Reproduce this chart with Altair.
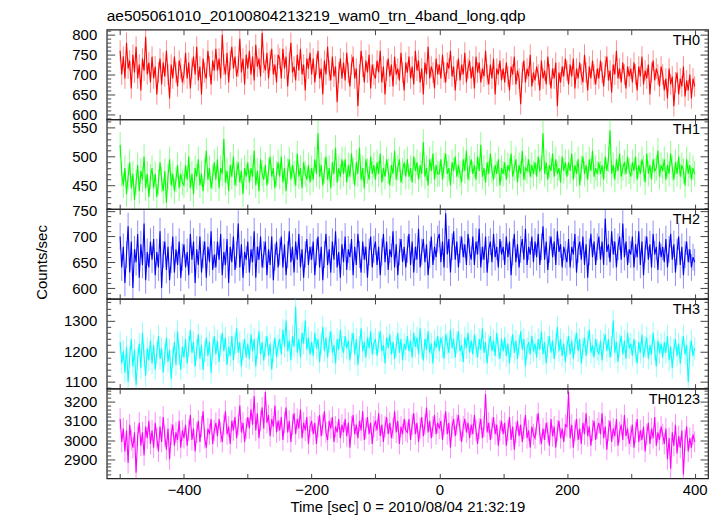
import altair as alt
import pandas as pd

TITLE = "ae505061010_20100804213219_wam0_trn_4band_long.qdp"
X_TITLE = "Time [sec] 0 = 2010/08/04 21:32:19"
Y_TITLE = "Counts/sec"

# time bins (sec): -500 ... 400 every 2.5 s
T_START, T_STEP, N_BINS = -500.0, 2.5, 361
TIMES = [T_START + T_STEP * i for i in range(N_BINS)]

X_DOMAIN = [-521, 421]
X_TICKS = [-500, -400, -300, -200, -100, 0, 100, 200, 300, 400]
X_LABELS = [-400, -200, 0, 200, 400]

TH0 = [760, 700, 745, 690, 780, 715, 735, 665, 750, 705, 770, 690, 725, 660, 740, 710, 795, 700, 730, 680,
       745, 690, 720, 650, 705, 740, 675, 730, 695, 760, 700, 640, 725, 690, 745, 705, 670, 735, 715, 680,
       700, 755, 690, 730, 665, 715, 745, 700, 770, 685, 720, 650, 740, 705, 690, 760, 720, 675, 735, 710,
       765, 710, 740, 690, 800, 725, 700, 755, 680, 735, 770, 715, 745, 695, 720, 790, 705, 740, 675, 750,
       715, 760, 700, 745, 685, 775, 720, 740, 695, 805, 730, 710, 755, 690, 735, 765, 700, 725, 680, 750,
       740, 690, 765, 715, 745, 670, 730, 780, 705, 720, 685, 750, 710, 765, 700, 725, 660, 740, 715, 755,
       700, 740, 680, 725, 760, 690, 715, 650, 735, 700, 770, 710, 685, 745, 695, 720, 630, 705, 740, 690,
       730, 685, 755, 705, 670, 725, 745, 690, 715, 620, 700, 760, 720, 680, 735, 705, 750, 665, 725, 700,
       690, 735, 705, 760, 680, 720, 650, 710, 740, 695, 725, 670, 745, 700, 715, 685, 755, 705, 660, 730,
       705, 745, 690, 720, 675, 760, 710, 735, 680, 715, 650, 730, 700, 770, 690, 720, 705, 665, 740, 700,
       725, 690, 750, 705, 680, 730, 715, 760, 695, 720, 660, 710, 740, 685, 725, 700, 755, 680, 715, 735,
       690, 720, 665, 745, 705, 730, 680, 715, 695, 760, 700, 675, 725, 690, 740, 650, 715, 700, 735, 685,
       715, 680, 730, 695, 660, 720, 700, 745, 675, 710, 690, 625, 705, 735, 680, 715, 695, 750, 670, 705,
       685, 720, 700, 660, 735, 690, 710, 675, 745, 700, 665, 715, 690, 730, 620, 705, 680, 720, 695, 740,
       710, 675, 725, 695, 740, 665, 715, 690, 730, 700, 680, 750, 705, 660, 720, 690, 735, 700, 675, 715,
       690, 735, 705, 670, 720, 745, 685, 710, 655, 725, 700, 760, 690, 715, 680, 730, 700, 665, 720, 695,
       715, 680, 730, 700, 660, 720, 695, 745, 675, 710, 690, 725, 650, 705, 735, 685, 715, 700, 670, 720,
       700, 660, 690, 640, 715, 675, 695, 620, 680, 705, 650, 690, 670, 720, 645, 685, 660, 700, 640, 690,
       670]

TH1 = [520, 470, 450, 480, 435, 465, 490, 445, 470, 425, 455, 485, 440, 475, 460, 500, 445, 470, 430, 465,
       480, 445, 470, 430, 455, 490, 460, 440, 475, 420, 465, 495, 450, 470, 440, 460, 485, 445, 470, 455,
       450, 485, 460, 500, 445, 470, 435, 480, 465, 495, 450, 470, 440, 475, 510, 460, 480, 445, 465, 490,
       460, 495, 445, 480, 470, 530, 455, 475, 440, 485, 465, 500, 450, 470, 490, 455, 475, 435, 480, 465,
       490, 455, 480, 465, 510, 450, 475, 440, 495, 470, 460, 485, 450, 475, 500, 465, 480, 445, 470, 490,
       465, 500, 455, 480, 440, 475, 495, 460, 485, 470, 450, 505, 465, 480, 445, 490, 470, 460, 485, 455,
       480, 460, 495, 470, 540, 465, 485, 450, 475, 500, 460, 480, 445, 490, 470, 515, 455, 480, 465, 495,
       470, 495, 455, 485, 465, 505, 475, 450, 490, 470, 515, 460, 480, 445, 495, 475, 460, 500, 470, 485,
       460, 490, 470, 505, 455, 480, 465, 495, 475, 450, 485, 470, 510, 460, 480, 495, 455, 475, 490, 465,
       495, 465, 480, 455, 500, 475, 490, 460, 485, 470, 525, 465, 480, 450, 495, 475, 505, 460, 485, 470,
       470, 495, 460, 485, 505, 470, 480, 450, 490, 475, 500, 465, 485, 470, 455, 495, 475, 510, 460, 480,
       495, 470, 485, 460, 500, 475, 520, 465, 480, 455, 490, 470, 505, 475, 460, 485, 470, 495, 450, 480,
       470, 490, 460, 485, 475, 505, 465, 480, 495, 455, 485, 470, 510, 460, 480, 475, 495, 465, 485, 470,
       490, 465, 500, 475, 480, 540, 470, 490, 460, 485, 475, 505, 465, 495, 470, 480, 455, 500, 475, 490,
       465, 490, 475, 505, 460, 485, 470, 495, 450, 480, 500, 470, 485, 460, 495, 475, 510, 465, 480, 470,
       490, 470, 485, 460, 500, 475, 495, 545, 470, 485, 460, 495, 475, 505, 465, 480, 490, 470, 500, 475,
       465, 490, 475, 500, 460, 485, 470, 495, 480, 455, 505, 470, 485, 460, 495, 475, 480, 510, 465, 485,
       475, 495, 460, 485, 470, 505, 480, 460, 490, 470, 500, 465, 485, 475, 450, 495, 470, 485, 460, 480,
       470]

TH2 = [700, 640, 680, 610, 665, 720, 630, 690, 600, 675, 650, 705, 620, 685, 645, 725, 615, 670, 640, 690,
       655, 695, 625, 670, 640, 710, 600, 665, 690, 635, 680, 615, 655, 700, 630, 675, 645, 690, 620, 660,
       685, 640, 670, 625, 705, 655, 690, 610, 675, 645, 700, 630, 665, 690, 620, 680, 650, 710, 635, 665,
       640, 690, 655, 705, 625, 670, 645, 695, 610, 680, 650, 700, 635, 665, 725, 640, 685, 620, 670, 655,
       690, 630, 675, 650, 710, 620, 680, 655, 700, 640, 665, 690, 625, 675, 645, 700, 615, 660, 690, 640,
       670, 700, 640, 685, 625, 665, 710, 650, 680, 630, 690, 655, 705, 640, 675, 620, 665, 695, 645, 680,
       655, 690, 625, 670, 700, 640, 680, 615, 665, 705, 645, 675, 630, 690, 655, 710, 640, 670, 620, 685,
       650, 700, 635, 675, 660, 695, 625, 680, 645, 705, 665, 630, 690, 655, 680, 620, 670, 700, 640, 675,
       690, 645, 680, 625, 670, 705, 650, 690, 635, 675, 660, 710, 640, 685, 625, 670, 695, 650, 680, 640,
       675, 705, 645, 690, 630, 680, 655, 715, 640, 670, 695, 650, 685, 625, 665, 700, 645, 680, 660, 695,
       705, 650, 690, 640, 745, 665, 695, 630, 680, 710, 655, 690, 640, 675, 700, 660, 685, 645, 705, 670,
       655, 700, 645, 690, 665, 715, 640, 680, 655, 700, 630, 675, 690, 650, 705, 660, 680, 640, 695, 665,
       680, 645, 700, 660, 690, 625, 670, 705, 650, 685, 640, 675, 695, 655, 715, 645, 680, 665, 700, 650,
       690, 660, 705, 645, 680, 720, 655, 690, 635, 675, 700, 660, 690, 645, 710, 670, 685, 640, 680, 665,
       650, 695, 640, 680, 665, 705, 630, 675, 690, 655, 700, 645, 685, 620, 670, 705, 660, 690, 645, 680,
       700, 655, 690, 645, 735, 670, 685, 650, 710, 665, 690, 640, 680, 700, 655, 725, 660, 690, 645, 675,
       665, 700, 640, 685, 660, 710, 645, 690, 625, 675, 700, 655, 685, 640, 705, 665, 680, 635, 690, 660,
       680, 650, 695, 640, 675, 705, 655, 685, 630, 670, 700, 645, 680, 625, 665, 690, 650, 675, 640, 660,
       650]

TH3 = [1230, 1160, 1200, 1130, 1215, 1100, 1180, 1240, 1150, 1205, 1090, 1175, 1225, 1145, 1260, 1185, 1120, 1210, 1170, 1235,
       1160, 1220, 1140, 1195, 1250, 1175, 1210, 1130, 1190, 1245, 1165, 1205, 1110, 1180, 1230, 1155, 1265, 1190, 1140, 1215,
       1180, 1240, 1160, 1215, 1270, 1195, 1230, 1150, 1205, 1255, 1175, 1220, 1140, 1200, 1245, 1185, 1230, 1130, 1210, 1250,
       1190, 1235, 1165, 1220, 1260, 1200, 1245, 1155, 1215, 1185, 1250, 1170, 1225, 1275, 1195, 1230, 1150, 1205, 1240, 1180,
       1225, 1175, 1255, 1200, 1240, 1150, 1210, 1265, 1190, 1230, 1170, 1215, 1250, 1185, 1225, 1140, 1200, 1245, 1180, 1220,
       1240, 1190, 1270, 1215, 1300, 1200, 1235, 1170, 1250, 1215, 1345, 1195, 1240, 1180, 1260, 1225, 1300, 1205, 1245, 1190,
       1230, 1185, 1260, 1210, 1240, 1165, 1225, 1280, 1200, 1245, 1180, 1230, 1265, 1195, 1220, 1160, 1240, 1205, 1270, 1215,
       1195, 1250, 1210, 1235, 1170, 1225, 1260, 1190, 1240, 1155, 1215, 1275, 1200, 1230, 1180, 1245, 1210, 1265, 1190, 1225,
       1240, 1185, 1230, 1265, 1200, 1220, 1160, 1245, 1210, 1255, 1190, 1230, 1175, 1215, 1260, 1195, 1240, 1170, 1225, 1205,
       1250, 1200, 1235, 1180, 1260, 1215, 1245, 1190, 1275, 1210, 1170, 1240, 1205, 1265, 1195, 1225, 1160, 1235, 1210, 1250,
       1200, 1245, 1215, 1175, 1255, 1225, 1195, 1270, 1210, 1240, 1180, 1230, 1265, 1200, 1220, 1165, 1245, 1210, 1260, 1195,
       1235, 1190, 1255, 1215, 1180, 1240, 1205, 1275, 1195, 1230, 1160, 1220, 1250, 1200, 1235, 1185, 1260, 1210, 1175, 1240,
       1200, 1245, 1185, 1225, 1160, 1215, 1255, 1195, 1235, 1175, 1220, 1265, 1205, 1240, 1150, 1210, 1230, 1190, 1250, 1200,
       1225, 1180, 1240, 1205, 1265, 1190, 1230, 1160, 1215, 1250, 1195, 1235, 1175, 1220, 1280, 1200, 1240, 1185, 1225, 1165,
       1215, 1250, 1190, 1235, 1175, 1225, 1260, 1200, 1240, 1160, 1210, 1245, 1185, 1230, 1270, 1195, 1220, 1180, 1240, 1205,
       1190, 1235, 1170, 1225, 1255, 1200, 1240, 1180, 1215, 1300, 1195, 1230, 1165, 1220, 1250, 1190, 1235, 1175, 1260, 1210,
       1225, 1185, 1240, 1200, 1160, 1230, 1195, 1255, 1180, 1215, 1245, 1175, 1220, 1190, 1260, 1205, 1150, 1235, 1195, 1225,
       1180, 1230, 1195, 1250, 1170, 1215, 1145, 1205, 1240, 1185, 1225, 1160, 1210, 1250, 1190, 1220, 1100, 1200, 1235, 1185,
       1210]

TH0123 = [3110, 2990, 3060, 2940, 3050, 2880, 3080, 3000, 2960, 3040, 2830, 3020, 3090, 2970, 3040, 2920, 3070, 3010, 3100, 2980,
          3050, 2960, 3090, 3010, 2940, 3070, 2990, 3120, 3020, 2950, 3060, 2900, 3030, 3080, 2970, 3040, 3000, 3100, 2960, 3050,
          3010, 3080, 2970, 3050, 3130, 3000, 3060, 2940, 3040, 3100, 2990, 3070, 3150, 3010, 2960, 3060, 3030, 3110, 2980, 3050,
          3090, 3020, 3110, 3040, 2990, 3080, 3150, 3030, 3070, 2980, 3100, 3050, 3120, 3010, 3080, 3180, 3040, 3090, 2990, 3060,
          3120, 3060, 3160, 3080, 3230, 3050, 3140, 3010, 3100, 3170, 3060, 3250, 3090, 3130, 3020, 3110, 3070, 3180, 3040, 3100,
          3050, 3120, 3000, 3090, 3170, 3040, 3100, 2990, 3080, 3140, 3030, 3110, 3060, 3160, 3010, 3090, 3050, 3120, 2980, 3070,
          3100, 3030, 3090, 2980, 3070, 3130, 3020, 3080, 3150, 3040, 3000, 3100, 3060, 3120, 2990, 3070, 3040, 3110, 3010, 3080,
          3040, 3110, 3020, 3090, 2960, 3070, 3130, 3030, 3080, 3010, 3100, 3050, 3150, 3000, 3060, 3120, 3030, 3090, 2980, 3070,
          3100, 3050, 3140, 3020, 3080, 2990, 3070, 3120, 3030, 3090, 3010, 3060, 3150, 3040, 3100, 2980, 3070, 3030, 3110, 3050,
          3040, 3110, 3000, 3080, 3140, 3030, 3090, 2990, 3060, 3120, 3020, 3080, 3170, 3040, 3100, 3010, 3070, 3130, 3030, 3090,
          3060, 3100, 3000, 3080, 3150, 3030, 3090, 2960, 3070, 3110, 3020, 3080, 3130, 3050, 2990, 3070, 3110, 3040, 3090, 3010,
          3080, 3030, 3130, 3050, 2980, 3060, 3110, 3010, 3070, 3240, 3040, 3090, 3000, 3060, 3120, 3030, 3080, 2970, 3050, 3100,
          3030, 3090, 2970, 3050, 3120, 3000, 3070, 2950, 3040, 3100, 3020, 3080, 2990, 3060, 3130, 3010, 3050, 2960, 3070, 3030,
          3010, 3080, 3140, 3030, 2980, 3060, 3000, 3090, 3040, 2970, 3110, 3020, 3070, 2960, 3050, 3100, 3010, 3060, 2990, 3080,
          3070, 3250, 3010, 3080, 2960, 3050, 3110, 3000, 3060, 2980, 3090, 3030, 3140, 3020, 3070, 2970, 3050, 3100, 3000, 3060,
          3090, 3030, 3140, 3010, 3070, 2950, 3050, 3100, 2990, 3060, 3020, 3110, 2970, 3040, 3080, 3000, 3130, 3020, 3060, 2980,
          3020, 3080, 2960, 3040, 3110, 2990, 3050, 3000, 3070, 2940, 3030, 3090, 2980, 3060, 3010, 3120, 2970, 3040, 3000, 3070,
          3030, 2980, 3060, 2900, 3010, 2850, 3040, 2970, 3080, 2930, 3020, 2960, 3050, 2820, 3000, 3070, 2940, 3010, 2960, 3030,
          2990]

NAMES = ["TH0", "TH1", "TH2", "TH3", "TH0123"]
SERIES = [TH0, TH1, TH2, TH3, TH0123]
ERRORS = [26, 22, 26, 35, 55]
COLORS = ["#ff0000", "#00ff00", "#0000ff", "#00ffff", "#ff00ff"]
Y_DOMAINS = [[587, 813], [409, 564], [579, 753], [1078, 1371], [2800, 3268]]
Y_MAJOR = [[600, 650, 700, 750, 800],
           [450, 500, 550],
           [600, 650, 700, 750],
           [1100, 1200, 1300],
           [2900, 3000, 3100, 3200]]
Y_MINOR_STEP = [10, 10, 10, 20, 20]

W, H = 603, 90
FONT = "Liberation Sans"
TICK_COLOR = "#444"


def minor_ticks(dom, step, majors):
    start = (int(dom[0]) // step + 1) * step
    return [v for v in range(start, int(dom[1]) + 1, step) if v not in majors]


def panel(i):
    name, vals, err, color = NAMES[i], SERIES[i], ERRORS[i], COLORS[i]
    dom, majors = Y_DOMAINS[i], Y_MAJOR[i]
    minors = minor_ticks(dom, Y_MINOR_STEP[i], majors)
    first, last = i == 0, i == len(NAMES) - 1

    df = pd.DataFrame({"t": TIMES, "v": vals})
    df["lo"] = df["v"] - err
    df["hi"] = df["v"] + err

    xs = alt.Scale(domain=X_DOMAIN, nice=False, zero=False)
    ys = alt.Scale(domain=dom, nice=False, zero=False)

    label_expr = "indexof(%s, datum.value) >= 0 ? datum.label : ''" % str(X_LABELS)
    x_bottom = alt.Axis(orient="bottom", values=X_TICKS, labelExpr=label_expr,
                        labels=last, tickSize=5, offset=-5, domain=False,
                        grid=False, labelPadding=4, titlePadding=2, format="d",
                        title=X_TITLE if last else None, zindex=1)
    x_top = alt.Axis(orient="top", values=X_TICKS, labels=False, tickSize=5,
                     offset=-5, domain=False, grid=False, title=None, zindex=1)
    y_left_major = alt.Axis(orient="left", values=majors, tickSize=8, offset=-8,
                            labelPadding=10, domain=False, grid=False, format="d",
                            title=Y_TITLE if i == 2 else None,
                            titlePadding=22, titleY=53, zindex=1)
    y_left_minor = alt.Axis(orient="left", values=minors, tickSize=4, offset=-4,
                            labels=False, domain=False, grid=False, title=None,
                            zindex=1)
    y_right_major = alt.Axis(orient="right", values=majors, tickSize=8, offset=-8,
                             labels=False, domain=False, grid=False, title=None,
                             zindex=1)
    y_right_minor = alt.Axis(orient="right", values=minors, tickSize=4, offset=-4,
                             labels=False, domain=False, grid=False, title=None,
                             zindex=1)

    base = alt.Chart(df)
    bars = base.mark_rule(color=color, opacity=0.45, strokeWidth=1, clip=True).encode(
        x=alt.X("t:Q", scale=xs, axis=x_bottom),
        y=alt.Y("lo:Q", scale=ys, axis=y_left_major),
        y2="hi:Q",
    )
    line = base.mark_line(color=color, strokeWidth=1.1, clip=True).encode(
        x=alt.X("t:Q", scale=xs, axis=x_top),
        y=alt.Y("v:Q", scale=ys, axis=y_left_minor),
    )
    ghost1 = base.mark_point(opacity=0, size=1).encode(
        x=alt.X("t:Q", scale=xs, axis=None),
        y=alt.Y("v:Q", scale=ys, axis=y_right_major),
    )
    ghost2 = base.mark_point(opacity=0, size=1).encode(
        x=alt.X("t:Q", scale=xs, axis=None),
        y=alt.Y("v:Q", scale=ys, axis=y_right_minor),
    )
    txt = alt.Chart(pd.DataFrame({"name": [name]})).mark_text(
        align="right", baseline="alphabetic", font=FONT, fontSize=14.5, color="black"
    ).encode(x=alt.value(W - 8), y=alt.value(15), text="name:N")

    ch = alt.layer(bars, line, ghost1, ghost2, txt).resolve_axis(
        x="independent", y="independent"
    ).properties(width=W, height=H)
    if first:
        ch = ch.properties(title=alt.TitleParams(
            TITLE, anchor="start", frame="group", fontSize=15.5, font=FONT,
            fontWeight="normal", color="black", offset=3))
    return ch


chart = alt.vconcat(*[panel(i) for i in range(len(NAMES))], spacing=0,
                    bounds="flush").properties(
    padding={"left": 26, "top": 0, "right": 5, "bottom": 0}
).configure_view(
    stroke="#222", strokeWidth=1.2
).configure_axis(
    labelFont=FONT, labelFontSize=15, labelColor="black",
    titleFont=FONT, titleFontSize=15, titleFontWeight="normal", titleColor="black",
    tickColor=TICK_COLOR, tickWidth=1,
)

chart.save("out.html", embed_options={"renderer": "svg", "actions": False})
